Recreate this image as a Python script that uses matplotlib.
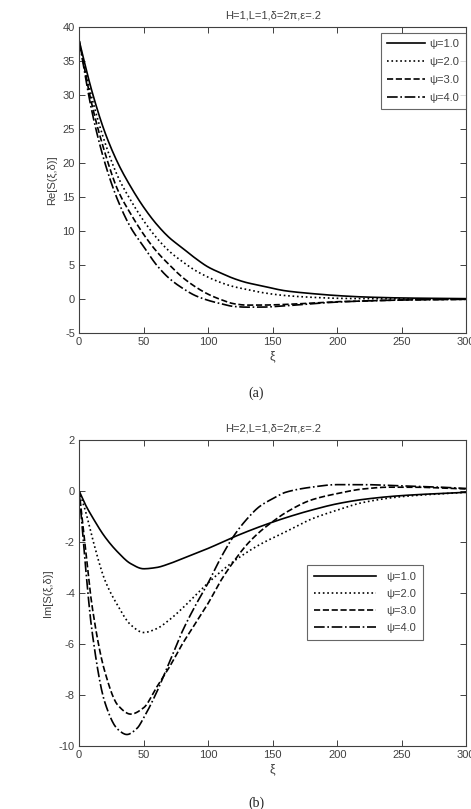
import numpy as np
import matplotlib
matplotlib.use("Agg")
import matplotlib.pyplot as plt

plt.rcParams["font.family"] = ["Liberation Sans", "DejaVu Sans"]
plt.rcParams["font.size"] = 8
plt.rcParams["axes.unicode_minus"] = False

# ── data ─────────────────────────────────────────────────────────────────────
psi_labels = ["ψ=1.0", "ψ=2.0", "ψ=3.0", "ψ=4.0"]
styles = ["-", ":", "--", "-."]

# (a) Re[S(xi, delta)]
xa = [0, 10, 20, 30, 40, 50, 60, 70, 80, 90, 100, 110, 120, 130, 140, 160,
      180, 200, 220, 250, 300]
re_psi1 = [38, 30.5, 24.5, 20, 16.5, 13.5, 11, 9, 7.5, 6, 4.7, 3.8, 3.0, 2.4,
           2.0, 1.2, 0.8, 0.5, 0.3, 0.15, 0.05]
re_psi2 = [38, 29.5, 23, 18, 14.5, 11.5, 9, 7, 5.5, 4.2, 3.2, 2.4, 1.8, 1.4,
           1.0, 0.5, 0.25, 0.1, 0.05, 0.02, 0.0]
re_psi3 = [38, 28.5, 21.5, 16, 12.5, 9.5, 7, 5, 3.2, 1.8, 0.7, -0.1, -0.7,
           -0.9, -0.9, -0.8, -0.6, -0.4, -0.3, -0.15, -0.05]
re_psi4 = [38, 27.5, 20, 14.5, 10.5, 7.7, 5, 3, 1.6, 0.5, -0.2, -0.7, -1.1,
           -1.2, -1.2, -1.0, -0.7, -0.45, -0.3, -0.15, -0.05]

# (b) Im[S(xi, delta)]
xb1 = [0, 5, 10, 20, 30, 40, 50, 60, 70, 80, 90, 100, 120, 140, 160, 180,
       200, 220, 250, 300]
im_psi1 = [0, -0.55, -1.0, -1.8, -2.4, -2.85, -3.05, -3.0, -2.85, -2.65,
           -2.45, -2.25, -1.8, -1.4, -1.05, -0.75, -0.5, -0.33, -0.18, -0.05]
im_psi2 = [0, -0.8, -1.8, -3.5, -4.5, -5.25, -5.55, -5.4, -5.05, -4.6, -4.1,
           -3.6, -2.75, -2.1, -1.6, -1.1, -0.75, -0.45, -0.22, -0.05]
xb3 = [0, 5, 10, 20, 30, 40, 50, 60, 70, 80, 90, 100, 110, 120, 130, 140,
       150, 160, 180, 200, 220, 240, 260, 280, 300]
im_psi3 = [0, -2.3, -4.5, -7.1, -8.4, -8.75, -8.5, -7.7, -6.9, -6.0, -5.2,
           -4.4, -3.5, -2.75, -2.1, -1.6, -1.2, -0.85, -0.35, -0.1, 0.08,
           0.15, 0.15, 0.12, 0.08]
xb4 = [0, 5, 10, 20, 30, 37, 45, 50, 60, 70, 80, 90, 100, 110, 120, 130, 140,
       150, 160, 180, 200, 220, 250, 280, 300]
im_psi4 = [0, -3.0, -5.5, -8.3, -9.35, -9.55, -9.3, -8.9, -7.9, -6.7, -5.5,
           -4.5, -3.6, -2.6, -1.75, -1.1, -0.6, -0.3, -0.05, 0.15, 0.25, 0.25,
           0.2, 0.15, 0.1]

GREY = "#404040"


def smooth(x, y, n=400):
    xs = np.linspace(min(x), max(x), n)
    # monotone piecewise cubic through the read points
    x = np.asarray(x, float)
    y = np.asarray(y, float)
    h = np.diff(x)
    d = np.diff(y) / h
    m = np.zeros_like(y)
    m[0], m[-1] = d[0], d[-1]
    for i in range(1, len(y) - 1):
        if d[i - 1] * d[i] > 0:
            w1, w2 = 2 * h[i] + h[i - 1], h[i] + 2 * h[i - 1]
            m[i] = (w1 + w2) / (w1 / d[i - 1] + w2 / d[i])
    idx = np.clip(np.searchsorted(x, xs) - 1, 0, len(h) - 1)
    t = (xs - x[idx]) / h[idx]
    h00 = 2 * t**3 - 3 * t**2 + 1
    h10 = t**3 - 2 * t**2 + t
    h01 = -2 * t**3 + 3 * t**2
    h11 = t**3 - t**2
    ys = (h00 * y[idx] + h10 * h[idx] * m[idx] + h01 * y[idx + 1]
          + h11 * h[idx] * m[idx + 1])
    return xs, ys


def style_axes(ax):
    for s in ax.spines.values():
        s.set_color(GREY)
        s.set_linewidth(0.8)
    ax.tick_params(direction="in", length=4, width=0.7, colors=GREY,
                   top=True, right=True, labelsize=8, pad=3)


def style_legend(leg):
    leg.get_frame().set_edgecolor(GREY)
    leg.get_frame().set_linewidth(0.8)
    for t in leg.get_texts():
        t.set_color(GREY)


fig = plt.figure(figsize=(4.71, 8.09), dpi=100)
ax1 = fig.add_axes([0.168, 0.5884, 0.822, 0.3782])
ax2 = fig.add_axes([0.168, 0.0779, 0.822, 0.3782])

# ── (a) ──────────────────────────────────────────────────────────────────────
for yv, ls, lab in zip([re_psi1, re_psi2, re_psi3, re_psi4], styles, psi_labels):
    xs, ys = smooth(xa, yv)
    ax1.plot(xs, ys, ls, color="black", lw=1.2, label=lab)
ax1.set_xlim(0, 300)
ax1.set_ylim(-5, 40)
ax1.set_xticks(np.arange(0, 301, 50))
ax1.set_yticks(np.arange(-5, 41, 5))
ax1.set_title("H=1,L=1,δ=2π,ε=.2", fontsize=8, color=GREY, pad=6)
ax1.set_xlabel("ξ", fontsize=9, color=GREY, labelpad=2)
ax1.set_ylabel("Re[S(ξ,δ)]", fontsize=8, color=GREY, labelpad=4)
style_axes(ax1)
leg1 = ax1.legend(loc="upper right", bbox_to_anchor=(0.998, 0.98),
                  fontsize=8, handlelength=3.4, frameon=True, fancybox=False,
                  borderaxespad=0.0, labelspacing=0.72, handletextpad=0.4,
                  borderpad=0.55)
style_legend(leg1)

# ── (b) ──────────────────────────────────────────────────────────────────────
for xv, yv, ls, lab in zip([xb1, xb1, xb3, xb4],
                           [im_psi1, im_psi2, im_psi3, im_psi4],
                           styles, psi_labels):
    xs, ys = smooth(xv, yv)
    ax2.plot(xs, ys, ls, color="black", lw=1.2, label=lab)
ax2.set_xlim(0, 300)
ax2.set_ylim(-10, 2)
ax2.set_xticks(np.arange(0, 301, 50))
ax2.set_yticks(np.arange(-10, 3, 2))
ax2.set_title("H=2,L=1,δ=2π,ε=.2", fontsize=8, color=GREY, pad=6)
ax2.set_xlabel("ξ", fontsize=9, color=GREY, labelpad=2)
ax2.set_ylabel("Im[S(ξ,δ)]", fontsize=8, color=GREY, labelpad=4)
style_axes(ax2)
leg2 = ax2.legend(loc="upper left", bbox_to_anchor=(0.589, 0.5915),
                  fontsize=8, handlelength=5.6, frameon=True, fancybox=False,
                  borderaxespad=0.0, labelspacing=0.65, handletextpad=0.9,
                  borderpad=0.6)
style_legend(leg2)

fig.text(256 / 471, 1 - 393 / 809, "(a)", ha="center", va="center",
         fontsize=10, family="Liberation Serif", color="#222222")
fig.text(256 / 471, 1 - 803 / 809, "(b)", ha="center", va="center",
         fontsize=10, family="Liberation Serif", color="#222222")

fig.savefig("out.png", dpi=100)
